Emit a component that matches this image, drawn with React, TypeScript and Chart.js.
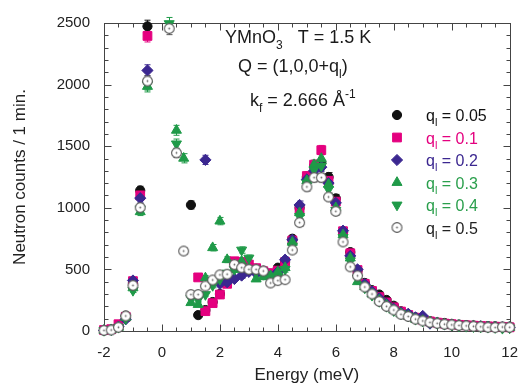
import React, { useEffect, useRef } from 'react';
import { Chart, registerables } from 'chart.js';

Chart.register(...registerables);

const FONT = '"Liberation Sans", Arial, Helvetica, sans-serif';

// Energy transfer grid (meV)
const energy = [
  -2, -1.75, -1.5, -1.25,
  -1, -0.75, -0.5, -0.25,
  0, 0.25, 0.5, 0.75,
  1, 1.25, 1.5, 1.75,
  2, 2.25, 2.5, 2.75,
  3, 3.25, 3.5, 3.75,
  4, 4.25, 4.5, 4.75,
  5, 5.25, 5.5, 5.75,
  6, 6.25, 6.5, 6.75,
  7, 7.25, 7.5, 7.75,
  8, 8.25, 8.5, 8.75,
  9, 9.25, 9.5, 9.75,
  10, 10.25, 10.5, 10.75,
  11, 11.25, 11.5, 11.75,
  12,
];

// Neutron counts per minute for each q_l (null = off scale / not measured)
const countsQ005 = [
  5, 10, 40, 125,
  395, 1141, 2473, null,
  null, null, null, null,
  1023, 129, 170, 235,
  300, 390, 550, 545,
  527, 505, 490, 450,
  514, 560, 749, 1000,
  1250, 1340, 1363, 1250,
  1076, 800, 640, 490,
  390, 331, 296, 252,
  205, 160, 135, 110,
  95, 80, 70, 65,
  58, 52, 48, 45,
  42, 40, 38, 35,
  35,
];

const countsQ01 = [
  8, 15, 55, 115,
  405, 1101, 2395, null,
  null, null, null, null,
  null, 435, 161, 226,
  296, 383, 566, 560,
  540, 510, 485, 470,
  490, 560, 735, 990,
  1258, 1350, 1468, 1219,
  1050, 810, 631, 495,
  383, 325, 275, 232,
  192, 158, 130, 108,
  92, 78, 68, 60,
  55, 50, 46, 43,
  40, 37, 35, 32,
  30,
];

const countsQ02 = [
  5, 10, 35, 95,
  410, 1078, 2115, null,
  null, null, null, null,
  null, null, 1389, null,
  383, 396, 422, 450,
  480, 470, 460, 445,
  480, 579, 740, 1023,
  1230, 1300, 1330, 1200,
  1040, 814, 610, 500,
  380, 320, 265, 220,
  180, 148, 140, 110,
  122, 60, 65, 55,
  50, 45, 42, 40,
  38, 35, 32, 30,
  30,
];

const countsQ03 = [
  5, 10, 30, 110,
  350, 968, 1985, null,
  null, null, 1629, 1402,
  230, 215, 430, 676,
  892, 579, 500, 566,
  510, 422, 440, 448,
  480, 514, 720, 960,
  1220, 1350, 1400, 1190,
  1000, 780, 592, 400,
  360, 300, 250, 210,
  170, 140, 120, 95,
  85, 75, 65, 55,
  50, 45, 40, 38,
  35, 32, 30, 25,
  28,
];

const countsQ04 = [
  5, 10, 30, 100,
  330, 990, 2000, null,
  null, 2495, 1519, null,
  265, 255, 296, 370,
  420, 470, 500, 657,
  592, 480, 460, 430,
  440, 500, 690, 930,
  1200, 1310, 1340, 1150,
  980, 760, 570, 430,
  350, 290, 240, 200,
  165, 140, 120, 95,
  80, 70, 62, 55,
  48, 42, 38, 35,
  32, 30, 28, 22,
  25,
];

const countsQ05 = [
  5, 8, 30, 122,
  370, 1002, 2029, null,
  null, 2455, 1446, 649,
  296, 296, 365, 414,
  456, 461, 539, 514,
  500, 500, 487, 390,
  409, 417, 657, 880,
  1170, 1245, 1245, 1088,
  971, 723, 521, 448,
  357, 300, 240, 200,
  170, 135, 118, 96,
  82, 70, 62, 55,
  50, 45, 42, 38,
  35, 30, 28, 32,
  30,
];

const qValues = ['0.05', '0.1', '0.2', '0.3', '0.4', '0.5'];

const BLACK = '#111111';
const MAGENTA = '#e4007f';
const PURPLE = '#3b2790';
const GREEN = '#1f9a48';
const GREEN_TEXT = '#2a9f4c';
const GREY = '#555555';

type Marker = 'circle' | 'rect' | 'rectRot' | 'triangle' | 'triangleDown' | 'open';

const series: { q: string; counts: (number | null)[]; color: string; text: string; marker: Marker }[] = [
  { q: qValues[0], counts: countsQ005, color: BLACK, text: '#111111', marker: 'circle' },
  { q: qValues[1], counts: countsQ01, color: MAGENTA, text: MAGENTA, marker: 'rect' },
  { q: qValues[2], counts: countsQ02, color: PURPLE, text: PURPLE, marker: 'rectRot' },
  { q: qValues[3], counts: countsQ03, color: GREEN, text: GREEN_TEXT, marker: 'triangle' },
  { q: qValues[4], counts: countsQ04, color: GREEN, text: GREEN_TEXT, marker: 'triangleDown' },
  { q: qValues[5], counts: countsQ05, color: GREY, text: '#222222', marker: 'open' },
];

const RADIUS: Record<Marker, number> = {
  circle: 4.6,
  rect: 6.2,
  rectRot: 5.6,
  triangle: 5.8,
  triangleDown: 5.8,
  open: 5,
};

function makeOpenCircle(): HTMLCanvasElement {
  const c = document.createElement('canvas');
  c.width = 13;
  c.height = 13;
  const g = c.getContext('2d')!;
  g.beginPath();
  g.arc(6.5, 6.5, 4.9, 0, Math.PI * 2);
  g.fillStyle = '#ffffff';
  g.fill();
  g.lineWidth = 1.1;
  g.strokeStyle = '#555555';
  g.stroke();
  g.beginPath();
  g.arc(6.5, 6.5, 0.9, 0, Math.PI * 2);
  g.fillStyle = '#666666';
  g.fill();
  return c;
}

function drawMarker(ctx: CanvasRenderingContext2D, m: Marker, x: number, y: number, color: string, img: HTMLCanvasElement) {
  if (m === 'open') {
    ctx.drawImage(img, x - img.width / 2, y - img.height / 2);
    return;
  }
  const r = RADIUS[m];
  ctx.fillStyle = color;
  ctx.strokeStyle = color;
  ctx.lineWidth = 1;
  ctx.beginPath();
  if (m === 'circle') {
    ctx.arc(x, y, r, 0, Math.PI * 2);
  } else if (m === 'rect') {
    const s = Math.SQRT1_2 * r;
    ctx.rect(x - s, y - s, 2 * s, 2 * s);
  } else if (m === 'rectRot') {
    ctx.moveTo(x, y - r);
    ctx.lineTo(x + r, y);
    ctx.lineTo(x, y + r);
    ctx.lineTo(x - r, y);
    ctx.closePath();
  } else {
    const rot = m === 'triangleDown' ? Math.PI : 0;
    for (let k = 0; k < 3; k++) {
      const a = rot + (k * 2 * Math.PI) / 3;
      const px = x + Math.sin(a) * r;
      const py = y - Math.cos(a) * r;
      if (k === 0) ctx.moveTo(px, py);
      else ctx.lineTo(px, py);
    }
    ctx.closePath();
  }
  ctx.fill();
  ctx.stroke();
}

type Part = { t: string; size: number; dy: number };

function drawRich(ctx: CanvasRenderingContext2D, x: number, baseline: number, parts: Part[], color: string) {
  ctx.fillStyle = color;
  ctx.textBaseline = 'alphabetic';
  ctx.textAlign = 'left';
  let cx = x;
  for (const p of parts) {
    ctx.font = `${p.size}px ${FONT}`;
    ctx.fillText(p.t, cx, baseline + p.dy);
    cx += ctx.measureText(p.t).width;
  }
}

export default function App() {
  const canvasRef = useRef<HTMLCanvasElement | null>(null);

  useEffect(() => {
    const canvas = canvasRef.current;
    if (!canvas) return;
    const openImg = makeOpenCircle();

    // Poisson counting error bars, drawn beneath the markers
    const errorBars = {
      id: 'errorBars',
      beforeDatasetsDraw(chart: any) {
        const { ctx, scales } = chart;
        const xs = scales.x;
        const ys = scales.y;
        ctx.save();
        ctx.lineWidth = 1;
        series.forEach((s) => {
          ctx.strokeStyle = s.color;
          ctx.beginPath();
          s.counts.forEach((c, i) => {
            if (c === null || c < 200) return;
            const err = Math.sqrt(c);
            const px = Math.round(xs.getPixelForValue(energy[i])) + 0.5;
            const top = ys.getPixelForValue(c + err);
            const bot = ys.getPixelForValue(c - err);
            ctx.moveTo(px, top);
            ctx.lineTo(px, bot);
            ctx.moveTo(px - 3, top);
            ctx.lineTo(px + 3, top);
            ctx.moveTo(px - 3, bot);
            ctx.lineTo(px + 3, bot);
          });
          ctx.stroke();
        });
        ctx.restore();
      },
    };

    // Boxed frame with inward major/minor ticks on all four sides
    const frame = {
      id: 'frame',
      beforeDatasetsDraw(chart: any) {
        const { ctx, chartArea: a, scales } = chart;
        const xs = scales.x;
        const ys = scales.y;
        const L = Math.round(a.left) + 0.5;
        const R = Math.round(a.right) + 0.5;
        const T = Math.round(a.top) + 0.5;
        const B = Math.round(a.bottom) + 0.5;
        ctx.save();
        ctx.strokeStyle = '#444444';
        ctx.lineWidth = 1;
        ctx.strokeRect(L, T, R - L, B - T);
        ctx.beginPath();
        for (let k = 0; k <= 28; k++) {
          const v = -2 + k * 0.5;
          const px = Math.round(xs.getPixelForValue(v)) + 0.5;
          const len = k % 4 === 0 ? 7 : 4;
          ctx.moveTo(px, B);
          ctx.lineTo(px, B - len);
          ctx.moveTo(px, T);
          ctx.lineTo(px, T + len);
        }
        for (let k = 0; k <= 25; k++) {
          const v = k * 100;
          const py = Math.round(ys.getPixelForValue(v)) + 0.5;
          const len = k % 5 === 0 ? 7 : 4;
          ctx.moveTo(L, py);
          ctx.lineTo(L + len, py);
          ctx.moveTo(R, py);
          ctx.lineTo(R - len, py);
        }
        ctx.stroke();
        ctx.restore();
      },
    };

    // Sample description and legend inside the plot
    const annotations = {
      id: 'annotations',
      afterDatasetsDraw(chart: any) {
        const { ctx } = chart;
        ctx.save();
        const ink = '#1a1a1a';
        drawRich(ctx, 225, 43, [
          { t: 'YMnO', size: 18, dy: 0 },
          { t: '3', size: 12, dy: 6 },
          { t: '   T = 1.5 K', size: 18, dy: 0 },
        ], ink);
        drawRich(ctx, 238, 72, [
          { t: 'Q = (1,0,0+q', size: 18, dy: 0 },
          { t: 'l', size: 12, dy: 6 },
          { t: ')', size: 18, dy: 0 },
        ], ink);
        drawRich(ctx, 250, 106, [
          { t: 'k', size: 18, dy: 0 },
          { t: 'f', size: 12, dy: 6 },
          { t: ' = 2.666 Å', size: 18, dy: 0 },
          { t: '-1', size: 12, dy: -8 },
        ], ink);

        const rows = [115, 137.5, 160, 182.5, 205, 227.5];
        series.forEach((s, i) => {
          const y = rows[i];
          drawMarker(ctx, s.marker, 397, y, s.color, openImg);
          drawRich(ctx, 426, y + 6, [
            { t: 'q', size: 16, dy: 0 },
            { t: 'l', size: 11, dy: 5 },
            { t: ' = ' + s.q, size: 16, dy: 0 },
          ], s.text);
        });
        ctx.restore();
      },
    };

    const datasets = series
      .slice()
      .reverse()
      .map((s) => ({
        label: 'q_l = ' + s.q,
        data: energy
          .map((e, i) => ({ x: e, y: s.counts[i] }))
          .filter((p) => p.y !== null),
        pointStyle: s.marker === 'open' ? openImg : s.marker === 'triangleDown' ? 'triangle' : s.marker,
        pointRotation: s.marker === 'triangleDown' ? 180 : 0,
        pointRadius: RADIUS[s.marker],
        pointHoverRadius: RADIUS[s.marker],
        backgroundColor: s.color,
        borderColor: s.color,
        borderWidth: 1,
        showLine: false,
        clip: false as const,
      }));

    const tickFont = { family: FONT, size: 15 };
    const titleFont = { family: FONT, size: 17 };

    const chart = new Chart(canvas, {
      type: 'scatter',
      data: { datasets: datasets as any },
      options: {
        animation: false,
        responsive: false,
        maintainAspectRatio: false,
        events: [],
        layout: { padding: { left: 0, right: 21, top: 11, bottom: 0 } },
        plugins: {
          legend: { display: false },
          tooltip: { enabled: false },
        },
        scales: {
          x: {
            type: 'linear',
            min: -2,
            max: 12,
            grid: { display: false, drawTicks: false },
            border: { display: false },
            ticks: {
              stepSize: 2,
              padding: 13,
              color: '#222222',
              font: tickFont,
              callback: (v: any) => String(v),
            },
            title: {
              display: true,
              text: 'Energy (meV)',
              color: '#222222',
              font: titleFont,
              padding: { top: 0, bottom: 5 },
            },
            afterFit: (s: any) => {
              s.height = 60;
            },
          },
          y: {
            type: 'linear',
            min: 0,
            max: 2500,
            grid: { display: false, drawTicks: false },
            border: { display: false },
            ticks: {
              stepSize: 500,
              padding: 14,
              color: '#222222',
              font: tickFont,
              callback: (v: any) => String(v),
            },
            title: {
              display: true,
              text: 'Neutron counts / 1 min.',
              color: '#222222',
              font: titleFont,
              padding: { top: 10, bottom: 0 },
            },
            afterFit: (s: any) => {
              s.width = 104;
            },
          },
        },
      },
      plugins: [frame, errorBars, annotations],
    });

    return () => chart.destroy();
  }, []);

  return (
    <div style={{ position: 'fixed', left: 0, top: 0, width: 531, height: 391, background: '#ffffff' }}>
      <canvas ref={canvasRef} width={531} height={391} style={{ display: 'block', width: 531, height: 391 }} />
    </div>
  );
}
